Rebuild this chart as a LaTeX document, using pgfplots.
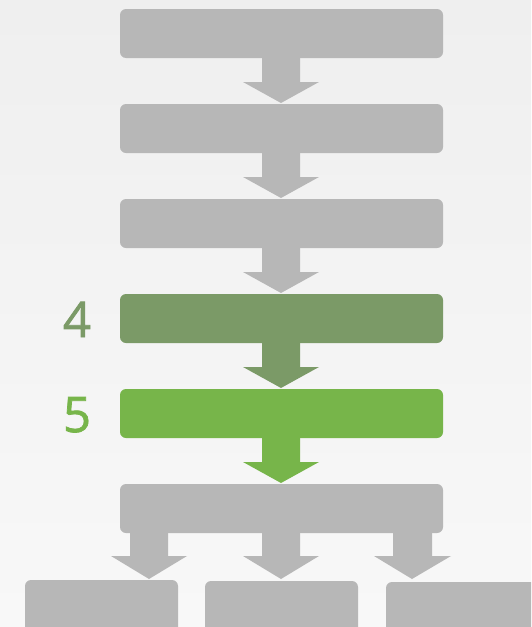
\documentclass[border=0pt]{standalone}
\usepackage{pgfplots}
\pgfplotsset{compat=1.18}
\usepackage{fontspec}
\setmainfont{Open Sans}
\newfontfamily\labfont{Open Sans}[FakeBold=1.5]
\definecolor{bgtop}{HTML}{EFEFEF}
\definecolor{bgbot}{HTML}{F8F8F8}
\definecolor{boxgray}{HTML}{B7B7B7}
\definecolor{olive}{HTML}{7B9A67}
\definecolor{leaf}{HTML}{77B54A}
\begin{document}
\begin{tikzpicture}
\begin{axis}[width=531pt,height=627pt,scale only axis,
  xmin=0,xmax=531,ymin=0,ymax=627,y dir=reverse,
  hide axis, clip=true]
% background
\addplot[draw=none, top color=bgtop, bottom color=bgbot] coordinates {(0,0)(531,0)(531,627)(0,627)} --cycle;
% main boxes
\addplot[draw=none, fill=boxgray, rounded corners=6pt] coordinates {(120,9)(443,9)(443,58)(120,58)} --cycle;
\addplot[draw=none, fill=boxgray, rounded corners=6pt] coordinates {(120,104)(443,104)(443,153)(120,153)} --cycle;
\addplot[draw=none, fill=boxgray, rounded corners=6pt] coordinates {(120,199)(443,199)(443,248)(120,248)} --cycle;
\addplot[draw=none, fill=olive, rounded corners=6pt] coordinates {(120,294)(443,294)(443,343)(120,343)} --cycle;
\addplot[draw=none, fill=leaf, rounded corners=6pt] coordinates {(120,389)(443,389)(443,438)(120,438)} --cycle;
\addplot[draw=none, fill=boxgray, rounded corners=6pt] coordinates {(120,484)(443,484)(443,533)(120,533)} --cycle;
% bottom boxes
\addplot[draw=none, fill=boxgray, rounded corners=6pt] coordinates {(25,580)(178,580)(178,660)(25,660)} --cycle;
\addplot[draw=none, fill=boxgray, rounded corners=6pt] coordinates {(205,581)(358,581)(358,660)(205,660)} --cycle;
\addplot[draw=none, fill=boxgray, rounded corners=6pt] coordinates {(386,582)(560,582)(560,660)(386,660)} --cycle;
% arrows between main boxes
\addplot[draw=none, fill=boxgray] coordinates {(262,58)(300,58)(300,82)(319,82)(281,103)(243,82)(262,82)} --cycle;
\addplot[draw=none, fill=boxgray] coordinates {(262,153)(300,153)(300,177)(319,177)(281,198)(243,177)(262,177)} --cycle;
\addplot[draw=none, fill=boxgray] coordinates {(262,248)(300,248)(300,272)(319,272)(281,293)(243,272)(262,272)} --cycle;
\addplot[draw=none, fill=olive] coordinates {(262,343)(300,343)(300,367)(319,367)(281,388)(243,367)(262,367)} --cycle;
\addplot[draw=none, fill=leaf] coordinates {(262,438)(300,438)(300,462)(319,462)(281,483)(243,462)(262,462)} --cycle;
% branching arrows
\addplot[draw=none, fill=boxgray] coordinates {(130,533)(168,533)(168,556)(187,556)(149,579)(111,556)(130,556)} --cycle;
\addplot[draw=none, fill=boxgray] coordinates {(262,533)(300,533)(300,556)(319,556)(281,579)(243,556)(262,556)} --cycle;
\addplot[draw=none, fill=boxgray] coordinates {(393,533)(432,533)(432,556)(451,556)(412,579)(374,556)(393,556)} --cycle;
% labels
\node[text=olive, font=\labfont\fontsize{49}{49}\selectfont, anchor=base] at (axis cs:77,337) {4};
\node[text=leaf, font=\labfont\fontsize{49}{49}\selectfont, anchor=base] at (axis cs:77,432) {5};
\end{axis}
\end{tikzpicture}
\end{document}
